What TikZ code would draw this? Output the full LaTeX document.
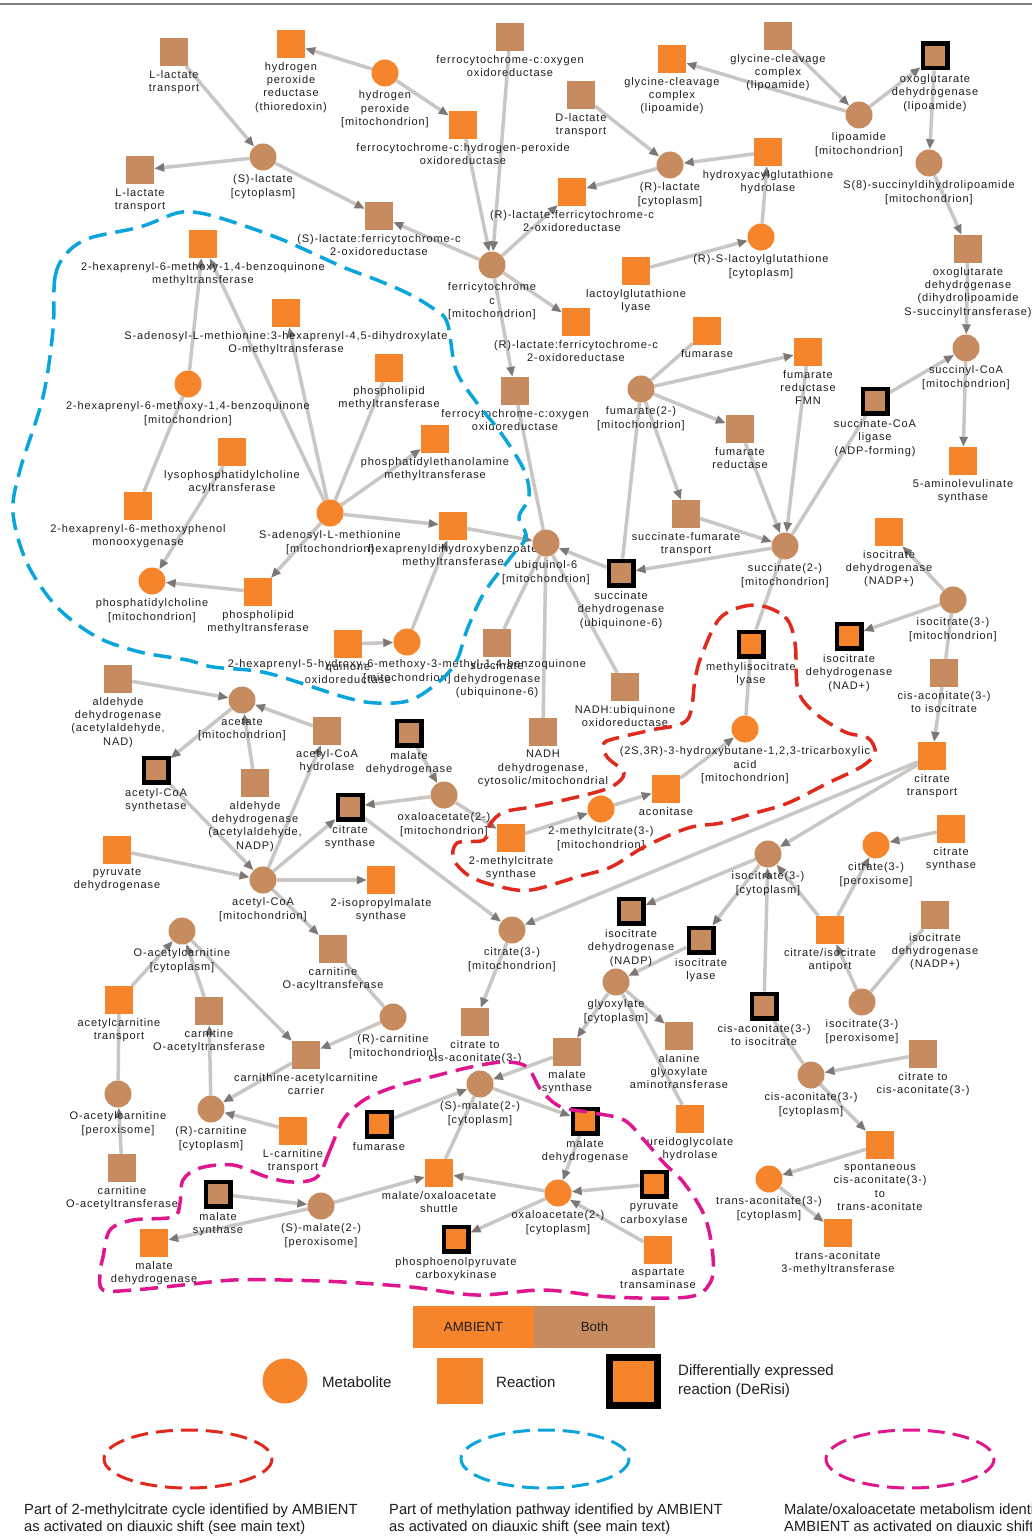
\documentclass[tikz,border=0pt]{standalone}
\usepackage{fontspec}
\setmainfont{Liberation Sans}
\newfontfamily\lblfont[LetterSpace=8]{Liberation Sans}
\usetikzlibrary{arrows.meta}
\pgfdeclarelayer{bg}
\pgfdeclarelayer{edges}
\pgfsetlayers{bg,edges,main}
\definecolor{orc}{HTML}{F5842B}
\definecolor{tnc}{HTML}{C68C5F}
\definecolor{edc}{HTML}{CAC6C4}
\definecolor{arc}{HTML}{7D7876}
\definecolor{txc}{HTML}{1E1E1E}
\definecolor{blc}{HTML}{0AA5DA}
\definecolor{rdc}{HTML}{E02A1E}
\definecolor{mgc}{HTML}{E0168E}
\begin{document}
\begin{tikzpicture}[x=1pt,y=-1pt,label distance=4pt,
 met/.style={circle,minimum size=27pt,inner sep=0pt,fill=#1},
 rxn/.style={rectangle,minimum size=28pt,inner sep=0pt,fill=#1},
 de/.style={rectangle,minimum size=24.5pt,inner sep=0pt,fill=#1,draw=black,line width=4.5pt},
 every label/.style={font=\lblfont\fontsize{11}{13.3}\selectfont,align=center,text=txc,inner sep=0pt},
 ed/.style={draw=edc,line width=3.5pt},
 ar/.style={ed,-{Triangle[length=10pt,width=8pt,color=arc]}},
 region/.style={line width=3.5pt,dash pattern=on 18pt off 9pt},
 legtxt/.style={font=\fontsize{15}{19}\selectfont,text=txc,inner sep=0pt,align=left},
 captxt/.style={font=\fontsize{14.7}{17}\selectfont,text=txc,inner sep=0pt,align=left,anchor=north west}]
\useasboundingbox (0,0) rectangle (1032,1536);
\begin{pgfonlayer}{bg}
\fill[white] (0,0) rectangle (1032,1536);
\end{pgfonlayer}
\draw[gray,line width=1.5pt] (0,4) -- (1032,4);

% ---------- nodes ----------
\node[rxn=tnc,label={below:{L-lactate\\transport}}] (llt1) at (174,52) {};
\node[rxn=orc,label={below:{hydrogen\\peroxide\\reductase\\(thioredoxin)}}] (hpr) at (291,44) {};
\node[met=orc,label={below:{hydrogen\\peroxide\\{}[mitochondrion]}}] (h2o2) at (385,73) {};
\node[rxn=tnc,label={below:{ferrocytochrome-c:oxygen\\oxidoreductase}}] (fox1) at (510,37) {};
\node[rxn=orc,label={below:{ferrocytochrome-c:hydrogen-peroxide\\oxidoreductase}}] (fhp) at (463,125) {};
\node[rxn=tnc,label={below:{D-lactate\\transport}}] (dlt) at (581,95) {};
\node[rxn=orc,label={below:{glycine-cleavage\\complex\\(lipoamide)}}] (gcc1) at (672,59) {};
\node[rxn=tnc,label={below:{glycine-cleavage\\complex\\(lipoamide)}}] (gcc2) at (778,36) {};
\node[de=tnc,label={below:{oxoglutarate\\dehydrogenase\\(lipoamide)}}] (odh1) at (935,56) {};
\node[met=tnc,label={below:{lipoamide\\{}[mitochondrion]}}] (lip) at (859,115) {};
\node[met=tnc,label={below:{(S)-lactate\\{}[cytoplasm]}}] (slac) at (263,157) {};
\node[rxn=tnc,label={below:{L-lactate\\transport}}] (llt2) at (140,170) {};
\node[met=tnc,label={below:{(R)-lactate\\{}[cytoplasm]}}] (rlac) at (670,165) {};
\node[rxn=orc,label={below:{hydroxyacylglutathione\\hydrolase}}] (hagh) at (768,152) {};
\node[met=tnc,label={below:{S(8)-succinyldihydrolipoamide\\{}[mitochondrion]}}] (s8) at (929,163) {};
\node[rxn=orc,label={below:{(R)-lactate:ferricytochrome-c\\2-oxidoreductase}}] (rlfo1) at (572,192) {};
\node[rxn=tnc,label={below:{(S)-lactate:ferricytochrome-c\\2-oxidoreductase}}] (slfo) at (379,216) {};
\node[met=orc,label={below:{(R)-S-lactoylglutathione\\{}[cytoplasm]}}] (rslg) at (761,237) {};
\node[rxn=orc,label={below:{2-hexaprenyl-6-methoxy-1,4-benzoquinone\\methyltransferase}}] (hmt1) at (203,244) {};
\node[rxn=tnc,label={below:{oxoglutarate\\dehydrogenase\\(dihydrolipoamide\\S-succinyltransferase)}}] (odh2) at (968,249) {};
\node[met=tnc,label={below:{ferricytochrome\\c\\{}[mitochondrion]}}] (fcc) at (492,265) {};
\node[rxn=orc,label={below:{lactoylglutathione\\lyase}}] (lgl) at (636,271) {};
\node[rxn=orc,label={below:{S-adenosyl-L-methionine:3-hexaprenyl-4,5-dihydroxylate\\O-methyltransferase}}] (samt) at (286,313) {};
\node[rxn=orc,label={below:{(R)-lactate:ferricytochrome-c\\2-oxidoreductase}}] (rlfo2) at (576,322) {};
\node[rxn=orc,label={below:{fumarase}}] (fum1) at (707,331) {};
\node[rxn=orc,label={below:{fumarate\\reductase\\FMN}}] (frf) at (808,352) {};
\node[met=tnc,label={below:{succinyl-CoA\\{}[mitochondrion]}}] (scoa) at (966,348) {};
\node[rxn=orc,label={below:{phospholipid\\methyltransferase}}] (plm1) at (389,368) {};
\node[met=orc,label={below:{2-hexaprenyl-6-methoxy-1,4-benzoquinone\\{}[mitochondrion]}}] (hmq) at (188,384) {};
\node[met=tnc,label={below:{fumarate(2-)\\{}[mitochondrion]}}] (fumt) at (641,389) {};
\node[rxn=tnc,label={below:{ferrocytochrome-c:oxygen\\oxidoreductase}}] (fox2) at (515,391) {};
\node[de=tnc,label={below:{succinate-CoA\\ligase\\(ADP-forming)}}] (scl) at (875,401) {};
\node[rxn=tnc,label={below:{fumarate\\reductase}}] (fr) at (740,429) {};
\node[rxn=orc,label={below:{phosphatidylethanolamine\\methyltransferase}}] (pem) at (435,439) {};
\node[rxn=orc,label={below:{lysophosphatidylcholine\\acyltransferase}}] (lpc) at (232,452) {};
\node[rxn=orc,label={below:{5-aminolevulinate\\synthase}}] (ala) at (963,461) {};
\node[rxn=orc,label={below:{2-hexaprenyl-6-methoxyphenol\\monooxygenase}}] (hmpm) at (138,506) {};
\node[met=orc,label={below:{S-adenosyl-L-methionine\\{}[mitochondrion]}}] (sam) at (330,513) {};
\node[rxn=tnc,label={below:{succinate-fumarate\\transport}}] (sft) at (686,514) {};
\node[rxn=orc,label={below:{hexaprenyldihydroxybenzoate\\methyltransferase}}] (hdm) at (453,526) {};
\node[rxn=orc,label={below:{isocitrate\\dehydrogenase\\(NADP+)}}] (idp1) at (889,532) {};
\node[met=tnc,label={below:{ubiquinol-6\\{}[mitochondrion]}}] (ubq) at (546,543) {};
\node[met=tnc,label={below:{succinate(2-)\\{}[mitochondrion]}}] (succ) at (785,546) {};
\node[de=tnc,label={below:{succinate\\dehydrogenase\\(ubiquinone-6)}}] (sdh1) at (621,573) {};
\node[met=orc,label={below:{phosphatidylcholine\\{}[mitochondrion]}}] (pc) at (152,581) {};
\node[rxn=orc,label={below:{phospholipid\\methyltransferase}}] (plm2) at (258,592) {};
\node[met=tnc,label={below:{isocitrate(3-)\\{}[mitochondrion]}}] (icm) at (953,600) {};
\node[de=orc,label={below:{isocitrate\\dehydrogenase\\(NAD+)}}] (idnad) at (849,636) {};
\node[de=orc,label={below:{methylisocitrate\\lyase}}] (mil) at (751,644) {};
\node[met=orc,label={below:{2-hexaprenyl-5-hydroxy-6-methoxy-3-methyl-1,4-benzoquinone\\{}[mitochondrion]}}] (hhq) at (407,642) {};
\node[rxn=orc,label={below:{quinone\\oxidoreductase}}] (qor) at (348,644) {};
\node[rxn=tnc,label={below:{succinate\\dehydrogenase\\(ubiquinone-6)}}] (sdh2) at (497,643) {};
\node[rxn=tnc,label={below:{cis-aconitate(3-)\\to isocitrate}}] (cai1) at (944,673) {};
\node[rxn=tnc,label={below:{aldehyde\\dehydrogenase\\(acetylaldehyde,\\NAD)}}] (aldnad) at (118,679) {};
\node[rxn=tnc,label={below:{NADH:ubiquinone\\oxidoreductase}}] (nuo) at (625,687) {};
\node[met=tnc,label={below:{acetate\\{}[mitochondrion]}}] (acet) at (242,700) {};
\node[de=tnc,label={below:{malate\\dehydrogenase}}] (mdh1) at (409,733) {};
\node[met=orc,label={below:{(2S,3R)-3-hydroxybutane-1,2,3-tricarboxylic\\acid\\{}[mitochondrion]}}] (hbt) at (745,729) {};
\node[rxn=tnc,label={below:{acetyl-CoA\\hydrolase}}] (acoh) at (327,731) {};
\node[rxn=tnc,label={below:{NADH\\dehydrogenase,\\cytosolic/mitochondrial}}] (ndh) at (543,732) {};
\node[rxn=orc,label={below:{citrate\\transport}}] (cittr) at (932,756) {};
\node[de=tnc,label={below:{acetyl-CoA\\synthetase}}] (acs) at (156,770) {};
\node[rxn=tnc,label={below:{aldehyde\\dehydrogenase\\(acetylaldehyde,\\NADP)}}] (aldnadp) at (255,783) {};
\node[rxn=orc,label={below:{aconitase}}] (acon) at (666,789) {};
\node[met=tnc,label={below:{oxaloacetate(2-)\\{}[mitochondrion]}}] (oaam) at (444,795) {};
\node[de=tnc,label={below:{citrate\\synthase}}] (cs1) at (350,807) {};
\node[met=orc,label={below:{2-methylcitrate(3-)\\{}[mitochondrion]}}] (mc) at (601,809) {};
\node[rxn=orc,label={below:{citrate\\synthase}}] (cs2) at (951,829) {};
\node[rxn=orc,label={below:{2-methylcitrate\\synthase}}] (mcs) at (511,838) {};
\node[met=orc,label={below:{citrate(3-)\\{}[peroxisome]}}] (citp) at (876,845) {};
\node[rxn=orc,label={below:{pyruvate\\dehydrogenase}}] (pdh) at (117,850) {};
\node[met=tnc,label={below:{isocitrate(3-)\\{}[cytoplasm]}}] (icc) at (768,854) {};
\node[met=tnc,label={below:{acetyl-CoA\\{}[mitochondrion]}}] (acoa) at (263,880) {};
\node[rxn=orc,label={below:{2-isopropylmalate\\synthase}}] (ipms) at (381,880) {};
\node[de=tnc,label={below:{isocitrate\\dehydrogenase\\(NADP)}}] (idnadp) at (631,911) {};
\node[rxn=tnc,label={below:{isocitrate\\dehydrogenase\\(NADP+)}}] (idp2) at (935,915) {};
\node[met=tnc,label={below:{citrate(3-)\\{}[mitochondrion]}}] (citm) at (512,930) {};
\node[rxn=orc,label={below:{citrate/isocitrate\\antiport}}] (antip) at (830,930) {};
\node[met=tnc,label={below:{O-acetylcarnitine\\{}[cytoplasm]}}] (oacc) at (182,931) {};
\node[de=tnc,label={below:{isocitrate\\lyase}}] (icl) at (701,940) {};
\node[rxn=tnc,label={below:{carnitine\\O-acyltransferase}}] (cat) at (333,949) {};
\node[met=tnc,label={below:{glyoxylate\\{}[cytoplasm]}}] (glx) at (616,982) {};
\node[rxn=orc,label={below:{acetylcarnitine\\transport}}] (acct) at (119,1000) {};
\node[met=tnc,label={below:{isocitrate(3-)\\{}[peroxisome]}}] (icp) at (862,1002) {};
\node[de=tnc,label={below:{cis-aconitate(3-)\\to isocitrate}}] (cai2) at (764,1006) {};
\node[rxn=tnc,label={below:{carnitine\\O-acetyltransferase}}] (crat1) at (209,1011) {};
\node[met=tnc,label={below:{(R)-carnitine\\{}[mitochondrion]}}] (rcm) at (393,1017) {};
\node[rxn=tnc,label={below:{citrate to\\cis-aconitate(3-)}}] (cca1) at (475,1022) {};
\node[rxn=tnc,label={below:{alanine\\glyoxylate\\aminotransferase}}] (agt) at (679,1036) {};
\node[rxn=tnc,label={below:{malate\\synthase}}] (ms1) at (567,1052) {};
\node[rxn=tnc,label={below:{citrate to\\cis-aconitate(3-)}}] (cca2) at (923,1054) {};
\node[rxn=tnc,label={below:{carnithine-acetylcarnitine\\carrier}}] (carr) at (306,1055) {};
\node[met=tnc,label={below:{cis-aconitate(3-)\\{}[cytoplasm]}}] (cacy) at (811,1075) {};
\node[met=tnc,label={below:{(S)-malate(2-)\\{}[cytoplasm]}}] (smc) at (480,1084) {};
\node[met=tnc,label={below:{O-acetylcarnitine\\{}[peroxisome]}}] (oacp) at (118,1094) {};
\node[met=tnc,label={below:{(R)-carnitine\\{}[cytoplasm]}}] (rcc) at (211,1109) {};
\node[de=orc,label={below:{fumarase}}] (fum2) at (379,1124) {};
\node[rxn=orc,label={below:{ureidoglycolate\\hydrolase}}] (ugh) at (690,1119) {};
\node[de=orc,label={below:{malate\\dehydrogenase}}] (mdh2) at (585,1121) {};
\node[rxn=orc,label={below:{L-carnitine\\transport}}] (lct) at (293,1131) {};
\node[rxn=orc,label={below:{spontaneous\\cis-aconitate(3-)\\to\\trans-aconitate}}] (spont) at (880,1145) {};
\node[rxn=tnc,label={below:{carnitine\\O-acetyltransferase}}] (crat2) at (122,1168) {};
\node[rxn=orc,label={below:{malate/oxaloacetate\\shuttle}}] (mos) at (439,1173) {};
\node[met=orc,label={below:{trans-aconitate(3-)\\{}[cytoplasm]}}] (tac) at (769,1179) {};
\node[de=orc,label={below:{pyruvate\\carboxylase}}] (pyc) at (654,1184) {};
\node[met=orc,label={below:{oxaloacetate(2-)\\{}[cytoplasm]}}] (oac) at (558,1193) {};
\node[de=tnc,label={below:{malate\\synthase}}] (ms2) at (218,1194) {};
\node[met=tnc,label={below:{(S)-malate(2-)\\{}[peroxisome]}}] (smp) at (321,1206) {};
\node[rxn=orc,label={below:{trans-aconitate\\3-methyltransferase}}] (tam) at (838,1233) {};
\node[de=orc,label={below:{phosphoenolpyruvate\\carboxykinase}}] (pck) at (456,1239) {};
\node[rxn=orc,label={below:{malate\\dehydrogenase}}] (mdh3) at (154,1243) {};
\node[rxn=orc,label={below:{aspartate\\transaminase}}] (aat) at (658,1250) {};

% ---------- edges ----------
\begin{pgfonlayer}{edges}
\draw[ar] (llt1) -- (slac);
\draw[ar] (slac) -- (llt2);
\draw[ar] (slac) -- (slfo);
\draw[ar] (h2o2) -- (hpr);
\draw[ar] (h2o2) -- (fhp);
\draw[ar] (fhp) -- (fcc);
\draw[ar] (fox1) -- (fcc);
\draw[ar] (fcc) -- (slfo);
\draw[ar] (fcc) -- (rlfo1);
\draw[ar] (fcc) -- (rlfo2);
\draw[ar] (fcc) -- (fox2);
\draw[ar] (dlt) -- (rlac);
\draw[ar] (rlac) -- (rlfo1);
\draw[ar] (hagh) -- (rlac);
\draw[ar] (rslg) -- (hagh);
\draw[ar] (lgl) -- (rslg);
\draw[ar] (lip) -- (gcc1);
\draw[ar] (gcc2) -- (lip);
\draw[ar] (lip) -- (odh1);
\draw[ar] (odh1) -- (s8);
\draw[ar] (s8) -- (odh2);
\draw[ar] (odh2) -- (scoa);
\draw[ar] (scoa) -- (ala);
\draw[ar] (scl) -- (scoa);
\draw[ed] (scl) -- (succ);
\draw[ed] (fumt) -- (fum1);
\draw[ar] (fumt) -- (frf);
\draw[ar] (fumt) -- (fr);
\draw[ar] (fumt) -- (sft);
\draw[ar] (fr) -- (succ);
\draw[ar] (frf) -- (succ);
\draw[ar] (sft) -- (succ);
\draw[ar] (succ) -- (sdh1);
\draw[ar] (sdh1) -- (ubq);
\draw[ed] (sdh1) -- (fumt);
\draw[ed] (mil) -- (succ);
\draw[ar] (icm) -- (idp1);
\draw[ar] (icm) -- (idnad);
\draw[ed] (icm) -- (cai1);
\draw[ar] (cai1) -- (cittr);
\draw[ar] (cittr) -- (icc);
\draw[ar] (cittr) -- (citm);
\draw[ar] (icc) -- (idnadp);
\draw[ar] (icc) -- (icl);
\draw[ar] (antip) -- (icc);
\draw[ar] (cai2) -- (icc);
\draw[ar] (antip) -- (citp);
\draw[ar] (cs2) -- (citp);
\draw[ar] (icp) -- (antip);
\draw[ed] (idp2) -- (icp);
\draw[ed] (cai2) -- (cacy);
\draw[ar] (cca2) -- (cacy);
\draw[ar] (cacy) -- (spont);
\draw[ar] (spont) -- (tac);
\draw[ar] (tac) -- (tam);
\draw[ar] (aldnad) -- (acet);
\draw[ar] (acet) -- (acs);
\draw[ar] (acoh) -- (acet);
\draw[ar] (aldnadp) -- (acet);
\draw[ar] (acs) -- (acoa);
\draw[ar] (pdh) -- (acoa);
\draw[ar] (acoa) -- (acoh);
\draw[ar] (acoa) -- (cs1);
\draw[ar] (acoa) -- (ipms);
\draw[ar] (acoa) -- (cat);
\draw[ar] (mdh1) -- (oaam);
\draw[ar] (oaam) -- (cs1);
\draw[ar] (oaam) -- (mcs);
\draw[ar] (mcs) -- (mc);
\draw[ar] (mc) -- (acon);
\draw[ar] (acon) -- (hbt);
\draw[ed] (hbt) -- (mil);
\draw[ar] (cs1) -- (citm);
\draw[ar] (citm) -- (cca1);
\draw[ar] (icl) -- (glx);
\draw[ar] (glx) -- (ms1);
\draw[ar] (glx) -- (agt);
\draw[ed] (glx) -- (ugh);
\draw[ar] (ms1) -- (smc);
\draw[ar] (fum2) -- (smc);
\draw[ar] (smc) -- (mdh2);
\draw[ed] (mos) -- (smc);
\draw[ar] (mdh2) -- (oac);
\draw[ar] (oac) -- (mos);
\draw[ar] (pyc) -- (oac);
\draw[ar] (aat) -- (oac);
\draw[ar] (oac) -- (pck);
\draw[ar] (smp) -- (mos);
\draw[ar] (ms2) -- (smp);
\draw[ar] (smp) -- (mdh3);
\draw[ar] (acct) -- (oacc);
\draw[ar] (crat1) -- (oacc);
\draw[ar] (oacc) -- (carr);
\draw[ar] (rcm) -- (carr);
\draw[ar] (carr) -- (rcc);
\draw[ar] (lct) -- (rcc);
\draw[ar] (rcc) -- (crat1);
\draw[ar] (crat2) -- (oacp);
\draw[ed] (oacp) -- (acct);
\draw[ed] (cat) -- (rcm);
\draw[ar] (hmq) -- (hmt1);
\draw[ar] (sam) -- (hmt1);
\draw[ar] (sam) -- (samt);
\draw[ar] (sam) -- (pem);
\draw[ar] (sam) -- (hdm);
\draw[ar] (sam) -- (plm2);
\draw[ar] (plm2) -- (pc);
\draw[ar] (lpc) -- (pc);
\draw[ar] (hhq) -- (hdm);
\draw[ar] (qor) -- (hhq);
\draw[ed] (sam) -- (plm1);
\draw[ed] (hmq) -- (hmpm);
\draw[ar] (hdm) -- (ubq);
\draw[ed] (sdh2) -- (ubq);
\draw[ed] (ndh) -- (ubq);
\draw[ed] (nuo) -- (ubq);
\draw[ed] (fox2) -- (ubq);
\end{pgfonlayer}

% ---------- highlighted regions ----------
\draw[region,blc] plot[smooth cycle,tension=0.55] coordinates {
 (53,330) (55,277) (67,253) (90,238) (140,227) (177,213) (200,213) (233,222) (283,240) (343,267)
 (377,280) (407,293) (431,307) (447,322) (456,370) (477,403) (501,433) (524,470) (529,497)
 (519,517) (526,537) (511,557) (484,593) (467,630) (457,660) (441,680) (411,700) (377,703)
 (344,697) (267,673) (213,667) (187,660) (140,652) (97,637) (57,607) (27,563) (13,513) (20,470) (43,397)};
\draw[region,rdc] plot[smooth cycle,tension=0.55] coordinates {
 (755,605) (785,617) (795,643) (798,690) (815,713) (845,732) (868,738) (875,753) (861,767)
 (828,783) (788,803) (755,813) (721,823) (688,828) (644,847) (611,867) (577,877) (531,890)
 (501,887) (471,877) (454,860) (457,843) (484,840) (491,823) (504,812) (531,807) (577,797)
 (611,787) (624,773) (607,757) (604,743) (621,737) (651,730) (687,720) (695,680) (701,657) (721,617)};
\draw[region,mgc] plot[smooth cycle,tension=0.55] coordinates {
 (343,1120) (330,1150) (317,1177) (293,1182) (267,1177) (233,1165) (200,1168) (183,1180)
 (180,1203) (173,1217) (133,1220) (110,1230) (103,1257) (100,1273) (103,1290) (133,1290)
 (183,1285) (233,1280) (283,1280) (343,1282) (411,1287) (477,1295) (544,1290) (611,1297)
 (688,1297) (710,1283) (713,1257) (705,1217) (684,1183) (664,1163) (644,1140) (624,1120)
 (594,1113) (561,1107) (541,1090) (527,1067) (504,1062) (471,1067) (431,1077) (394,1087) (364,1100)};

% ---------- legend ----------
\node[rectangle,fill=orc,minimum width=121pt,minimum height=42pt,inner sep=0pt,font=\fontsize{13.3}{14}\selectfont,text=txc] (legamb) at (473.5,1327) {AMBIENT};
\node[rectangle,fill=tnc,minimum width=121pt,minimum height=42pt,inner sep=0pt,font=\fontsize{13.3}{14}\selectfont,text=txc] (legboth) at (594.5,1327) {Both};
\node[circle,fill=orc,minimum size=45pt,inner sep=0pt] (legmet) at (285,1381) {};
\node[legtxt,anchor=west] (legmett) at (322,1382) {Metabolite};
\node[rectangle,fill=orc,minimum size=46pt,inner sep=0pt] (legrxn) at (460,1381) {};
\node[legtxt,anchor=west] (legrxnt) at (496,1382) {Reaction};
\node[rectangle,fill=orc,draw=black,line width=7pt,minimum size=48pt,inner sep=0pt] (legde) at (633,1381) {};
\node[legtxt,anchor=west] (legdet) at (678,1381) {Differentially expressed\\reaction (DeRisi)};
\draw[region,rdc,line width=3pt,dash pattern=on 17pt off 8pt] (188,1459) ellipse [x radius=84,y radius=29];
\draw[region,blc,line width=3pt,dash pattern=on 17pt off 8pt] (545,1459) ellipse [x radius=84,y radius=29];
\draw[region,mgc,line width=3pt,dash pattern=on 17pt off 8pt] (910,1459) ellipse [x radius=84,y radius=29];
\node[captxt] (cap1) at (24,1504) {Part of 2-methylcitrate cycle identified by AMBIENT\\as activated on diauxic shift (see main text)};
\node[captxt] (cap2) at (389,1504) {Part of methylation pathway identified by AMBIENT\\as activated on diauxic shift (see main text)};
\node[captxt] (cap3) at (784,1504) {Malate/oxaloacetate metabolism identified by\\AMBIENT as activated on diauxic shift (see main text)};
\end{tikzpicture}
\end{document}
